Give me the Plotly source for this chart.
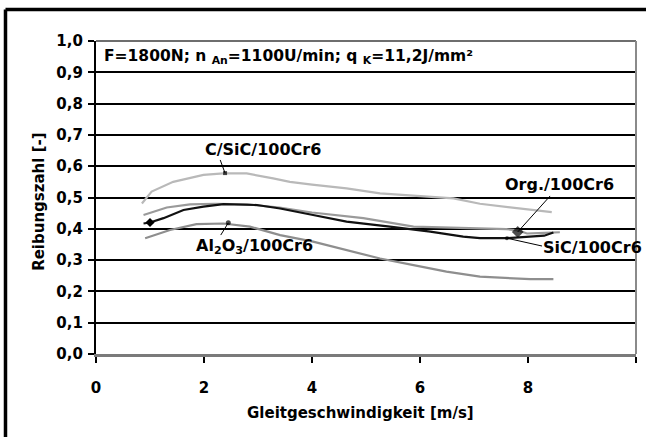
import plotly.graph_objects as go

# ---- data ----
cs_x = [0.85, 1.03, 1.43, 1.99, 2.36, 2.79, 3.28, 3.59, 4.0, 4.64, 5.26, 6.0, 6.62, 7.11, 7.5, 7.91, 8.2, 8.44]
cs_y = [0.481, 0.519, 0.55, 0.572, 0.577, 0.577, 0.561, 0.55, 0.541, 0.529, 0.513, 0.505, 0.497, 0.480, 0.472, 0.465, 0.46, 0.453]

org_x = [0.88, 1.31, 1.74, 2.2, 2.8, 3.4, 4.0, 4.95, 5.88, 6.49, 7.0, 7.6, 7.82, 7.98, 8.3, 8.59]
org_y = [0.444, 0.468, 0.478, 0.48, 0.478, 0.468, 0.452, 0.434, 0.407, 0.405, 0.402, 0.399, 0.395, 0.385, 0.387, 0.389]

sic_x = [0.88, 1.0, 1.25, 1.62, 1.99, 2.36, 2.98, 3.41, 4.02, 4.64, 5.44, 6.19, 6.8, 7.11, 7.6, 8.1, 8.3, 8.47]
sic_y = [0.417, 0.42, 0.434, 0.46, 0.471, 0.479, 0.476, 0.465, 0.444, 0.423, 0.407, 0.391, 0.375, 0.37, 0.37, 0.375, 0.378, 0.388]

al_x = [0.91, 1.37, 1.86, 2.36, 2.85, 3.41, 4.02, 4.64, 5.26, 5.88, 6.49, 7.11, 7.5, 8.04, 8.47]
al_y = [0.37, 0.396, 0.415, 0.417, 0.407, 0.38, 0.359, 0.332, 0.305, 0.284, 0.263, 0.247, 0.244, 0.239, 0.239]

y_ticks = [0.0, 0.1, 0.2, 0.3, 0.4, 0.5, 0.6, 0.7, 0.8, 0.9, 1.0]
y_ticktext = ["0,0", "0,1", "0,2", "0,3", "0,4", "0,5", "0,6", "0,7", "0,8", "0,9", "1,0"]
x_ticks = [0, 2, 4, 6, 8, 10]

# labels: text, text centre (x, y), pointer tail (x, y), pointer head (x, y)
labels = ["C/SiC/100Cr6", "Al<sub>2</sub>O<sub>3</sub>/100Cr6", "Org./100Cr6", "SiC/100Cr6"]
label_pos = [(3.09, 0.652), (2.93, 0.342), (8.59, 0.543), (9.19, 0.339)]
ptr_tail = [(2.30, 0.62), (2.31, 0.38), (8.41, 0.505), (8.26, 0.345)]
ptr_head = [(2.39, 0.578), (2.45, 0.419), (7.81, 0.39), (7.61, 0.37)]
marker_sym = ["square", "circle", "diamond", "circle"]
marker_size = [4, 5, 9, 4]

title_txt = "F=1800N; n <sub>An</sub>=1100U/min; q <sub>K</sub>=11,2J/mm²"

FONT = "DejaVu Sans"
FS = 15

fig = go.Figure()
fig.add_trace(go.Scatter(x=cs_x, y=cs_y, mode="lines", line=dict(color="#b9b9b9", width=2.2), showlegend=False))
fig.add_trace(go.Scatter(x=al_x, y=al_y, mode="lines", line=dict(color="#8e8e8e", width=2.2), showlegend=False))
fig.add_trace(go.Scatter(x=org_x, y=org_y, mode="lines", line=dict(color="#9a9a9a", width=2.2), showlegend=False))
fig.add_trace(go.Scatter(x=sic_x, y=sic_y, mode="lines", line=dict(color="#111111", width=2.2), showlegend=False))
# extra point marker on SiC start
fig.add_trace(go.Scatter(x=[sic_x[1]], y=[sic_y[1]], mode="markers",
                         marker=dict(symbol="diamond", size=7, color="#000"), showlegend=False))
fig.add_trace(go.Scatter(x=[h[0] for h in ptr_head], y=[h[1] for h in ptr_head], mode="markers",
                         marker=dict(symbol=marker_sym, size=marker_size, color="#000",
                                     line=dict(width=0)), showlegend=False))

anns = []
shapes = []
for t, p, tl, hd in zip(labels, label_pos, ptr_tail, ptr_head):
    shapes.append(dict(type="line", xref="x", yref="y", x0=tl[0], y0=tl[1], x1=hd[0], y1=hd[1],
                       line=dict(color="#000", width=1)))
    anns.append(dict(x=p[0], y=p[1], xref="x", yref="y", text=t, showarrow=False,
                     font=dict(family=FONT, size=FS + 1, color="#000", weight="bold"), xanchor="center", yanchor="middle"))

anns.append(dict(x=0.011, y=0.949, xref="paper", yref="paper", text=title_txt, showarrow=False,
                 xanchor="left", yanchor="middle", font=dict(family=FONT, size=15.5, color="#000", weight="bold")))
anns.append(dict(x=0.489, y=-0.1885, xref="paper", yref="paper", text="Gleitgeschwindigkeit [m/s]", showarrow=False,
                 xanchor="center", yanchor="middle", font=dict(family=FONT, size=FS, color="#000", weight="bold")))
anns.append(dict(x=-0.1056, y=0.486, xref="paper", yref="paper", text="Reibungszahl [-]", showarrow=False, textangle=-90,
                 xanchor="center", yanchor="middle", font=dict(family=FONT, size=FS, color="#000", weight="bold")))

shapes += [
    # outer figure border (left and top)
    dict(type="line", xref="paper", yref="paper", x0=-0.1676, x1=-0.1676, y0=1.1006, y1=-0.27, line=dict(color="#000", width=3.5)),
    dict(type="line", xref="paper", yref="paper", x0=-0.1676, x1=1.03, y0=1.1006, y1=1.1006, line=dict(color="#000", width=3.5)),
    # frame top and right (gray)
    dict(type="line", xref="paper", yref="paper", x0=0, x1=1, y0=1, y1=1, line=dict(color="#6e6e6e", width=2)),
    dict(type="line", xref="paper", yref="paper", x0=1, x1=1, y0=0, y1=1, line=dict(color="#8a8a8a", width=2)),
]

fig.update_layout(
    width=646, height=437,
    margin=dict(l=96, r=10, t=41, b=83),
    paper_bgcolor="white", plot_bgcolor="white",
    annotations=anns, shapes=shapes,
    xaxis=dict(range=[0, 10], tickvals=x_ticks, ticktext=[str(v) for v in x_ticks], showgrid=False, zeroline=False,
               showline=True, linecolor="#7a7a7a", linewidth=2.5, ticks="outside", ticklen=6, tickwidth=1.5, tickcolor="#000",
               ticklabelstandoff=12,
               tickfont=dict(family=FONT, size=FS, color="#000", weight="bold")),
    yaxis=dict(range=[0, 1.0], tickvals=y_ticks, ticktext=y_ticktext, showgrid=True, gridcolor="#000", gridwidth=1.5,
               zeroline=False, showline=True, linecolor="#000", linewidth=2.3, ticks="outside", ticklen=6, tickwidth=1.5,
               tickcolor="#000", ticklabelstandoff=2,
               tickfont=dict(family=FONT, size=FS, color="#000", weight="bold")),
)

fig.write_html("out.html")
